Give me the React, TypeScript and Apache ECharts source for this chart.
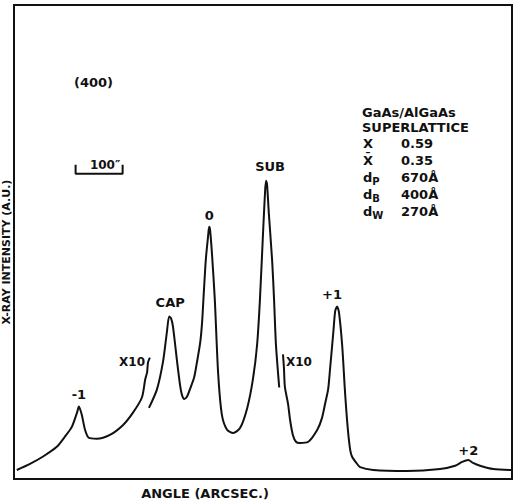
import React, { useEffect, useRef } from "react";
import * as echarts from "echarts";

// Rocking curve of the (400) reflection, angle in arcsec relative to the substrate peak.
// Left tail (scaled x10)
const angleLeft = [-530, -502, -475, -445, -428, -413, -402, -398, -392, -385, -377, -360, -332, -304, -283, -264, -257, -253, -251, -247];
const intensityLeft = [1.9, 3.2, 4.7, 6.8, 8.9, 11.0, 14.0, 15.3, 13.6, 10.4, 8.7, 8.5, 9.3, 11.4, 14.0, 17.2, 21.0, 22.5, 24.6, 25.6];

// Central part (x1): CAP, zero order and substrate peaks
const angleMid = [-249, -232, -219, -211, -206, -202, -198, -189, -183, -179, -174, -168, -162, -153, -147, -140, -136, -132, -128, -123, -121, -119, -115, -109, -102, -94, -83, -70, -55, -40, -28, -19, -13, -6, -2, 0, 2, 6, 13, 17, 21, 28];
const intensityMid = [15.0, 18.9, 24.8, 30.9, 34.3, 33.9, 32.2, 24.6, 19.9, 17.8, 16.9, 17.4, 18.9, 21.4, 24.6, 28.8, 33.1, 40.0, 46.4, 51.5, 53.2, 52.5, 47.5, 37.9, 22.5, 13.6, 10.4, 9.7, 10.8, 15.0, 21.0, 28.4, 37.9, 52.8, 60.8, 62.9, 62.3, 55.9, 46.0, 37.9, 28.4, 19.3];

// Right tail (scaled x10): +1 and +2 satellites
const angleRight = [36, 38, 40, 47, 51, 57, 64, 72, 89, 109, 119, 126, 132, 136, 143, 147, 151, 155, 162, 168, 174, 179, 183, 192, 200, 228, 300, 370, 402, 417, 430, 440, 455, 483, 521];
const intensityRight = [26.3, 23.5, 19.5, 15.7, 12.5, 9.3, 7.8, 7.6, 7.8, 10.4, 12.9, 16.1, 18.9, 23.1, 30.9, 35.4, 36.4, 35.2, 28.0, 18.2, 10.4, 6.1, 4.7, 3.4, 2.5, 1.9, 1.7, 2.1, 2.8, 3.6, 4.0, 3.4, 2.8, 2.1, 1.9];

// Peak labels: [text, angle, intensity, dx, dy]
const peakLabels: [string, number, number, number, number][] = [
  ["-1", -398, 15.3, 0, -12],
  ["CAP", -206, 34.3, 1, -14],
  ["0", -121, 53.2, 0, -11],
  ["SUB", 0, 62.9, 4, -14],
  ["+1", 151, 36.4, -5, -12],
  ["+2", 430, 4.0, 0, -10],
];

// Scale-change markers: [text, angle, intensity]
const scaleMarks: [string, number, number][] = [
  ["X10", -285, 24.6],
  ["X10", 70, 24.6],
];

// 100 arcsec scale bar
const scaleBarStart = -405;
const scaleBarLength = 100;
const scaleBarLevel = 64.4;
const scaleBarTick = 1.9;

const sampleTitle = ["GaAs/AlGaAs", "SUPERLATTICE"];
const paramNames = ["X", "X\u0304", "d{s|P}", "d{s|B}", "d{s|W}"];
const paramValues = ["0.59", "0.35", "670Å", "400Å", "270Å"];

const FONT = "DejaVu Sans";

const zip = (xs: number[], ys: number[]) => xs.map((x, i) => [x, ys[i]]);

export default function App() {
  const ref = useRef<HTMLDivElement>(null);

  useEffect(() => {
    if (!ref.current) return;
    const chart = echarts.init(ref.current, null, { renderer: "svg" });

    const lineStyle = { color: "#111", width: 2 };
    const textBase = { fontFamily: FONT, fontWeight: "bold" as const, color: "#111" };

    const graphics: any[] = [
      {
        type: "text",
        x: 74,
        y: 82,
        style: { text: "(400)", font: `bold 13px '${FONT}'`, fill: "#111", verticalAlign: "middle" },
      },
      {
        type: "text",
        x: 205,
        y: 493,
        style: { text: "ANGLE (ARCSEC.)", font: `bold 13px '${FONT}'`, fill: "#111", align: "center", verticalAlign: "middle" },
      },
      {
        type: "text",
        x: 6,
        y: 252,
        rotation: Math.PI / 2,
        style: { text: "X-RAY INTENSITY (A.U.)", font: `bold 11px '${FONT}'`, fill: "#111", align: "center", verticalAlign: "middle" },
      },
    ];
    sampleTitle.forEach((t, i) => {
      graphics.push({
        type: "text",
        x: 362,
        y: 112 + i * 15,
        style: { text: t, font: `bold 13px '${FONT}'`, fill: "#111", verticalAlign: "middle" },
      });
    });
    paramNames.forEach((t, i) => {
      graphics.push({
        type: "text",
        x: 363,
        y: 143 + i * 17,
        style: {
          text: t,
          font: `bold 13px '${FONT}'`,
          fill: "#111",
          verticalAlign: "middle",
          rich: { s: { fontSize: 10, fontWeight: "bold", fontFamily: FONT, fill: "#111", padding: [8, 0, 0, 0] } },
        },
      });
      graphics.push({
        type: "text",
        x: 401,
        y: 143 + i * 17,
        style: { text: paramValues[i], font: `bold 13px '${FONT}'`, fill: "#111", verticalAlign: "middle" },
      });
    });

    const scaleBar = [
      [scaleBarStart, scaleBarLevel + scaleBarTick],
      [scaleBarStart, scaleBarLevel],
      [scaleBarStart + scaleBarLength, scaleBarLevel],
      [scaleBarStart + scaleBarLength, scaleBarLevel + scaleBarTick],
    ];

    chart.setOption({
      animation: false,
      backgroundColor: "#fff",
      grid: { left: 14, right: 2, top: 5, bottom: 24, show: true, borderColor: "#111", borderWidth: 2, backgroundColor: "transparent" },
      xAxis: {
        type: "value",
        min: -536,
        max: 523,
        axisLine: { show: false },
        axisTick: { show: false },
        axisLabel: { show: false },
        splitLine: { show: false },
      },
      yAxis: {
        type: "value",
        min: 0,
        max: 100,
        axisLine: { show: false },
        axisTick: { show: false },
        axisLabel: { show: false },
        splitLine: { show: false },
      },
      graphic: graphics,
      series: [
        {
          type: "line",
          data: zip(angleLeft, intensityLeft),
          showSymbol: false,
          smooth: 0.25,
          lineStyle,
          markPoint: {
            symbol: "circle",
            symbolSize: 0,
            label: { show: true, position: "inside", fontSize: 12, ...textBase, formatter: (p: any) => p.name },
            data: scaleMarks.map(([t, x, y]) => ({ name: t, coord: [x, y] })),
          },
        },
        {
          type: "line",
          data: zip(angleMid, intensityMid),
          showSymbol: false,
          smooth: 0.25,
          lineStyle,
          markPoint: {
            symbol: "circle",
            symbolSize: 0,
            label: { show: true, position: "inside", fontSize: 13, ...textBase, formatter: (p: any) => p.name },
            data: peakLabels.map(([t, x, y, dx, dy]) => ({ name: t, coord: [x, y], label: { offset: [dx, dy] } })),
          },
        },
        {
          type: "line",
          data: zip(angleRight, intensityRight),
          showSymbol: false,
          smooth: 0.25,
          lineStyle,
        },
        {
          type: "line",
          data: scaleBar,
          showSymbol: false,
          lineStyle: { color: "#111", width: 2 },
          markPoint: {
            symbol: "circle",
            symbolSize: 0,
            label: { show: true, position: "inside", fontSize: 12, ...textBase, formatter: "100″", offset: [6, -9] },
            data: [{ name: "bar", coord: [scaleBarStart + scaleBarLength / 2, scaleBarLevel] }],
          },
        },
      ],
    });

    return () => chart.dispose();
  }, []);

  return <div ref={ref} style={{ width: 514, height: 503, position: "absolute", left: 0, top: 0 }} />;
}
